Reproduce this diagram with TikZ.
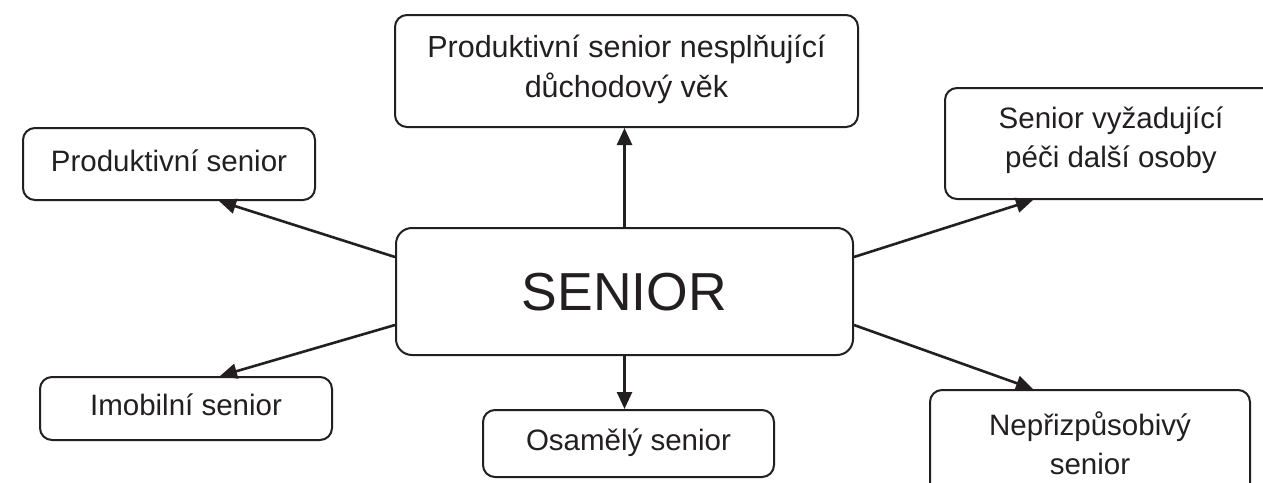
\documentclass[tikz,border=0pt]{standalone}
\usepackage{fontspec}
\setmainfont{Liberation Sans}
\usetikzlibrary{arrows.meta}
\definecolor{ink}{HTML}{231F20}
\begin{document}
\begin{tikzpicture}[x=1pt,y=-1pt,
  box/.style={draw=ink, line width=2pt, rounded corners=12pt, inner sep=0pt, text=ink,
              font=\fontsize{29.5}{39}\selectfont},
  one/.style={text height=22pt, text depth=8pt},
  two/.style={text height=22pt, text depth=52pt},
  arr/.style={draw=ink, line width=2.6pt, -{Triangle[length=17pt,width=15pt]}}]
\clip (0,0) rectangle (1263,482);
\fill[white] (0,0) rectangle (1263,482);

\node[box, minimum width=457pt, minimum height=127pt, rounded corners=16pt,
      font=\fontsize{53.5}{60}\selectfont, text height=39pt, text depth=1pt]
      (senior) at (624.5,291.5) {SENIOR};

\node[box, minimum width=463pt, minimum height=112pt, font=\fontsize{30.5}{40}\selectfont,
      text height=22pt, text depth=50pt]
      (top) at (626.5,71) {\begin{tabular}[t]{@{}c@{}}Produktivní senior nesplňující\\důchodový věk\end{tabular}};

\node[box, one, minimum width=292pt, minimum height=72pt] (prod) at (169,164) {Produktivní senior};
\node[box, one, minimum width=292pt, minimum height=63pt] (imob) at (186,408.5) {Imobilní senior};
\node[box, one, minimum width=291pt, minimum height=67pt] (osam) at (628.5,443.5) {Osamělý senior};

\node[box, two, minimum width=332pt, minimum height=111pt] (rtop) at (1111,143.5)
      {\begin{tabular}[t]{@{}c@{}}Senior vyžadující\\péči další osoby\end{tabular}};
\node[box, two, minimum width=320pt, minimum height=120pt] (rbot) at (1090,450)
      {\begin{tabular}[t]{@{}c@{}}Nepřizpůsobivý\\senior\end{tabular}};

\draw[arr] (senior.north) -- (senior.north |- top.south);
\draw[arr] (senior.south) -- (senior.south |- osam.north);
\draw[arr] ([yshift=34.5pt]senior.west) -- ([xshift=50pt]prod.south);
\draw[arr] ([yshift=-33.5pt]senior.west) -- ([xshift=34pt]imob.north);
\draw[arr] ([yshift=34.5pt]senior.east) -- ([xshift=-78pt]rtop.south);
\draw[arr] ([yshift=-33.5pt]senior.east) -- ([xshift=-57pt]rbot.north);
\end{tikzpicture}
\end{document}
